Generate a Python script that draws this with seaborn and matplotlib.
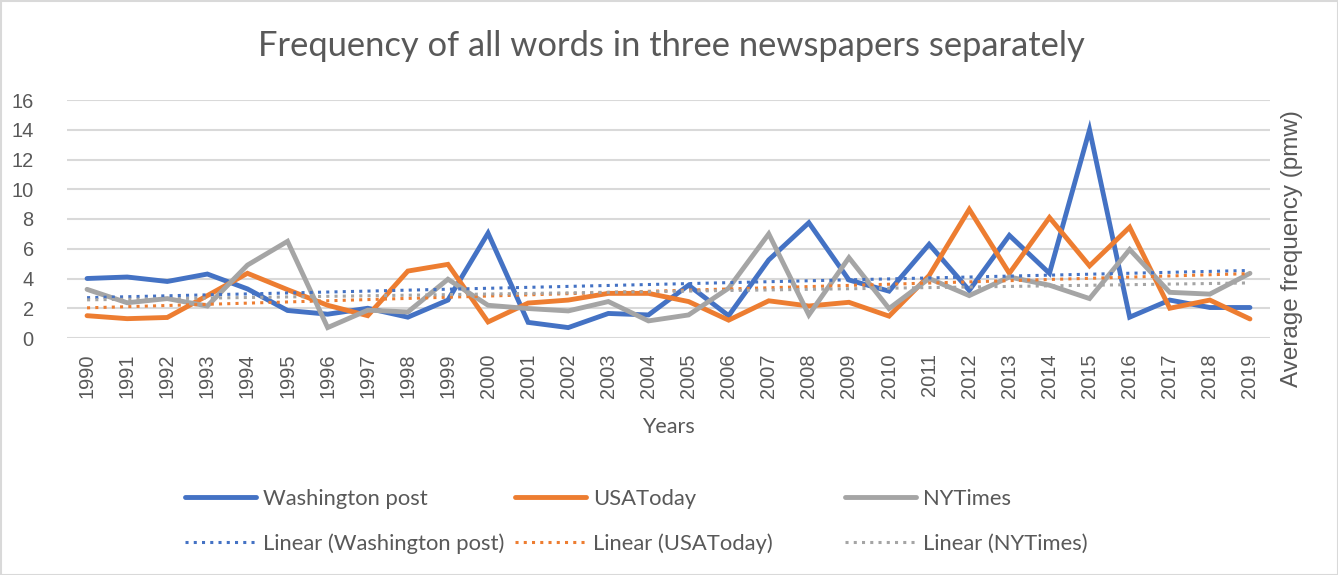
import numpy as np
import pandas as pd
import matplotlib
matplotlib.use("Agg")
import matplotlib.pyplot as plt
import seaborn as sns
from matplotlib.patches import Rectangle

years = list(range(1990, 2020))
washington_post = [4.0, 4.1, 3.8, 4.3, 3.3, 1.85, 1.6, 2.0, 1.4, 2.55,
                   7.05, 1.05, 0.7, 1.65, 1.55, 3.55, 1.5, 5.25, 7.75, 3.9,
                   3.15, 6.3, 3.2, 6.9, 4.35, 14.0, 1.4, 2.55, 2.05, 2.05]
usa_today = [1.5, 1.3, 1.38, 2.85, 4.35, 3.25, 2.2, 1.5, 4.5, 4.95,
             1.08, 2.35, 2.55, 3.0, 3.0, 2.45, 1.2, 2.5, 2.15, 2.4,
             1.47, 4.2, 8.65, 4.35, 8.1, 4.85, 7.45, 2.0, 2.55, 1.28]
ny_times = [3.27, 2.37, 2.65, 2.15, 4.9, 6.5, 0.7, 1.87, 1.75, 3.95,
            2.2, 1.98, 1.82, 2.45, 1.15, 1.55, 3.35, 7.0, 1.55, 5.4,
            1.98, 4.0, 2.85, 4.1, 3.55, 2.65, 5.95, 3.07, 2.95, 4.35]
series_names = ["Washington post", "USAToday", "NYTimes"]
y_ticks = [0, 2, 4, 6, 8, 10, 12, 14, 16]

colors = ["#4472C4", "#ED7D31", "#A5A5A5"]
text_col = "#595959"

sns.set_theme(style="white")
plt.rcParams['font.family'] = ['Liberation Sans', 'DejaVu Sans']

fig = plt.figure(figsize=(13.38, 5.75), dpi=100)
ax = fig.add_axes([67/1338, 1-338/575, (1270-67)/1338, (338-100)/575])

df = pd.DataFrame({"year": years, "Washington post": washington_post,
                   "USAToday": usa_today, "NYTimes": ny_times})

line_handles = []
trend_handles = []
for name, c in zip(series_names, colors):
    sns.lineplot(data=df, x="year", y=name, ax=ax, color=c, lw=3.5,
                 solid_capstyle="round", solid_joinstyle="miter", zorder=3)
    line_handles.append(ax.lines[-1])
for name, c in zip(series_names, colors):
    sns.regplot(data=df, x="year", y=name, ax=ax, scatter=False, ci=None,
                truncate=True, color=c,
                line_kws=dict(lw=2.2, ls=(0, (1, 1.7)), zorder=4))
    trend_handles.append(ax.lines[-1])

ax.set_xlim(1989.5, 2019.5)
ax.set_ylim(0, 16)
ax.set_yticks(y_ticks)
ax.set_xticks(years)
ax.set_xticklabels([str(y) for y in years], rotation=90)
ax.tick_params(axis="x", labelsize=14.4, colors=text_col, pad=11, length=0)
ax.tick_params(axis="y", labelsize=14.4, colors=text_col, pad=24, length=0)
ax.yaxis.grid(True, color="#D9D9D9", lw=1.5)
ax.xaxis.grid(False)
for s in ax.spines.values():
    s.set_visible(False)
ax.set_xlabel("")
ax.set_ylabel("")

fig.text(671/1338, 1-46/575, "Frequency of all words in three newspapers separately",
         ha="center", va="center", fontsize=24.8, color=text_col, family=["Lato", "DejaVu Sans"])
fig.text(668/1338, 1-427/575, "Years", ha="center", va="center", fontsize=15.5,
         color=text_col, family=["Lato", "DejaVu Sans"])
fig.text(1292/1338, 1-249/575, "Average frequency (pmw)", ha="center", va="center",
         rotation=90, fontsize=17.5, color=text_col)

col_x = [185, 515, 845]
for i in range(3):
    leg = fig.legend([line_handles[i], trend_handles[i]],
                     [series_names[i], f"Linear ({series_names[i]})"],
                     loc="upper left", bbox_to_anchor=(col_x[i]/1338, 1-489/575),
                     frameon=False, ncol=1, handlelength=3.24, handletextpad=0.32,
                     labelspacing=1.12, prop={"family": ["Lato", "DejaVu Sans"], "size": 15.8},
                     labelcolor=text_col, borderaxespad=0, borderpad=0)

fig.patches.append(Rectangle((0.5/1338, 0.5/575), 1-1/1338, 1-1/575, transform=fig.transFigure,
                             fill=False, edgecolor="#D9D9D9", lw=1.5))

fig.savefig("out.png", dpi=100)
